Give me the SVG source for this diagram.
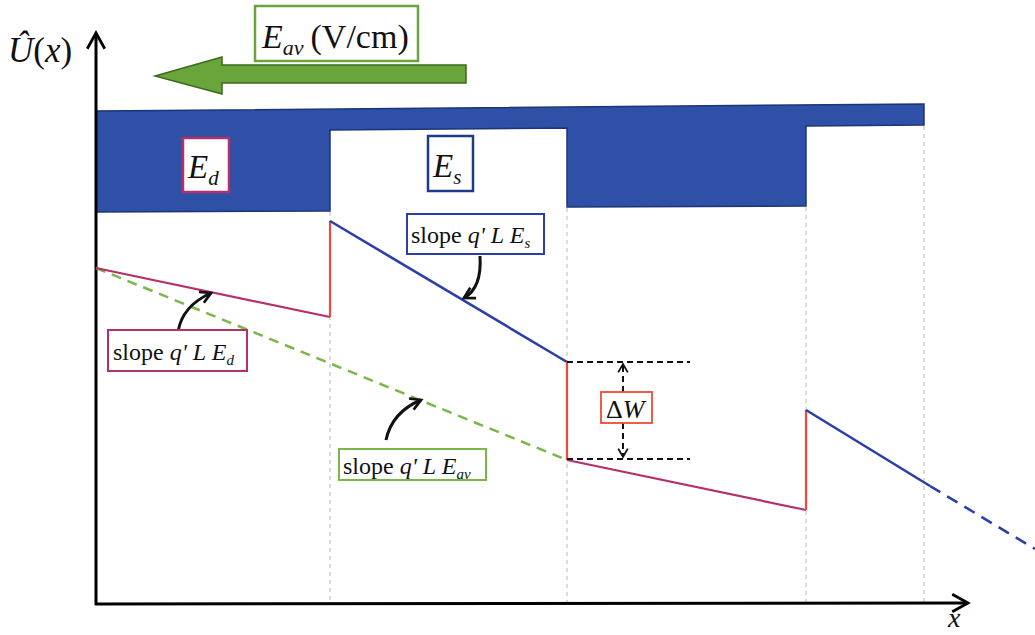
<svg xmlns="http://www.w3.org/2000/svg" width="1035" height="635" viewBox="0 0 1035 635">
<style>
.serif{font-family:"Liberation Serif","Times New Roman",serif;fill:#111}
.it{font-style:italic}
.grid{stroke:#b8b8b8;stroke-width:1;stroke-dasharray:4 4;fill:none}
.mag{stroke:#b3306c;stroke-width:2.2;fill:none}
.red{stroke:#f04a36;stroke-width:2.2;fill:none}
.blu{stroke:#2a3fa8;stroke-width:2.6;fill:none}
.curv{stroke:#111;stroke-width:3;fill:none;marker-end:url(#hd)}
</style>
<defs>
<marker id="hd" viewBox="0 0 10 10" refX="8" refY="5" markerWidth="5" markerHeight="5" orient="auto" markerUnits="strokeWidth">
<path d="M1,1 L8,5 L1,9" fill="none" stroke="#111" stroke-width="1.8"/>
</marker>
<marker id="ax" viewBox="0 0 12 12" refX="10" refY="6" markerWidth="7" markerHeight="7" orient="auto" markerUnits="strokeWidth">
<path d="M1,1 L10,6 L1,11" fill="none" stroke="#000" stroke-width="1.6"/>
</marker>
<marker id="dw" viewBox="0 0 10 10" refX="8" refY="5" markerWidth="6" markerHeight="6" orient="auto" markerUnits="strokeWidth">
<path d="M1,1 L8,5 L1,9" fill="none" stroke="#111" stroke-width="1.5"/>
</marker>
</defs>

<g id="band">
<polygon points="96,111 924,104 924,125 806,126 806,206 567,207 567,128 330,130 330,211 96,212" fill="#2e50a6" stroke="#1d3575" stroke-width="1.5"/>
</g>

<g id="gridlines">
<line class="grid" x1="330" y1="212" x2="330" y2="603"/>
<line class="grid" x1="567" y1="208" x2="567" y2="603"/>
<line class="grid" x1="806" y1="207" x2="806" y2="603"/>
<line class="grid" x1="924" y1="126" x2="924" y2="603"/>
</g>

<g id="axes">
<line x1="96" y1="605" x2="96" y2="33" stroke="#000" stroke-width="3" marker-end="url(#ax)"/>
<line x1="95" y1="604" x2="968" y2="603" stroke="#000" stroke-width="3" marker-end="url(#ax)"/>
<text class="serif it" x="948" y="627" font-size="28">x</text>
<text class="serif" x="8" y="62" font-size="35"><tspan class="it">Û</tspan><tspan>(</tspan><tspan class="it">x</tspan><tspan>)</tspan></text>
</g>

<g id="connectors">
<line x1="96" y1="268" x2="567" y2="460" stroke="#7ab648" stroke-width="2.5" stroke-dasharray="10 7"/>
<line class="mag" x1="96" y1="268" x2="330" y2="317"/>
<line class="red" x1="330" y1="317" x2="330" y2="221"/>
<line class="blu" x1="330" y1="221" x2="567" y2="362"/>
<line class="red" x1="567" y1="362" x2="567" y2="460"/>
<line class="mag" x1="567" y1="460" x2="806" y2="510"/>
<line class="red" x1="806" y1="510" x2="806" y2="410"/>
<line class="blu" x1="806" y1="410" x2="930" y2="486"/>
<line class="blu" x1="930" y1="486" x2="1035" y2="549" stroke-dasharray="12 8"/>
<line x1="567" y1="362" x2="690" y2="362" stroke="#111" stroke-width="1.8" stroke-dasharray="6 4"/>
<line x1="567" y1="459" x2="690" y2="459" stroke="#111" stroke-width="1.8" stroke-dasharray="6 4"/>
<line x1="623" y1="392" x2="623" y2="364" stroke="#111" stroke-width="2" stroke-dasharray="6 4" marker-end="url(#dw)"/>
<line x1="623" y1="423" x2="623" y2="457" stroke="#111" stroke-width="2" stroke-dasharray="6 4" marker-end="url(#dw)"/>
<path class="curv" d="M178,332 Q182,306 211,293"/>
<path class="curv" d="M480,256 Q482,288 464,298"/>
<path class="curv" d="M386,440 Q392,412 421,400"/>
</g>

<g id="eav-arrow">
<polygon points="155,76 222,57 222,65 466,65 466,83 222,83 222,94" fill="#6aa53c" stroke="#3c6a1c" stroke-width="1.5"/>
</g>

<g id="eav-label">
<rect x="255" y="6" width="163" height="55" fill="#fff" stroke="#6aa53c" stroke-width="2.5"/>
<text class="serif" x="262" y="48" font-size="34"><tspan class="it">E</tspan><tspan class="it" font-size="22" dy="7">av</tspan><tspan dy="-7" dx="7">(V/cm)</tspan></text>
</g>

<g id="ed-label">
<rect x="183" y="138" width="46" height="54" fill="#fff" stroke="#b3306c" stroke-width="2.5"/>
<text class="serif it" x="188" y="178" font-size="33">E<tspan font-size="21" dy="7">d</tspan></text>
</g>

<g id="es-label">
<rect x="428" y="136" width="45" height="55" fill="#fff" stroke="#1f3a8a" stroke-width="2.5"/>
<text class="serif it" x="433" y="177" font-size="33">E<tspan font-size="21" dy="7">s</tspan></text>
</g>

<g id="slope-d">
<rect x="108" y="330" width="139" height="41" fill="#fff" stroke="#b3306c" stroke-width="2"/>
<text class="serif" x="113" y="360" font-size="24">slope <tspan class="it">q' L E</tspan><tspan class="it" font-size="15" dy="5">d</tspan></text>
</g>

<g id="slope-s">
<rect x="407" y="214" width="137" height="40" fill="#fff" stroke="#2a3fa8" stroke-width="2"/>
<text class="serif" x="411" y="243" font-size="24">slope <tspan class="it">q' L E</tspan><tspan class="it" font-size="15" dy="5">s</tspan></text>
</g>

<g id="slope-av">
<rect x="339" y="449" width="147" height="31" fill="#fff" stroke="#7ab648" stroke-width="2"/>
<text class="serif" x="343" y="474" font-size="24">slope <tspan class="it">q' L E</tspan><tspan class="it" font-size="15" dy="5">av</tspan></text>
</g>

<g id="dw-label">
<rect x="601" y="392" width="51" height="31" fill="#fff" stroke="#f04a36" stroke-width="1.8"/>
<text class="serif" x="606" y="418" font-size="26">Δ<tspan class="it">W</tspan></text>
</g>
</svg>
